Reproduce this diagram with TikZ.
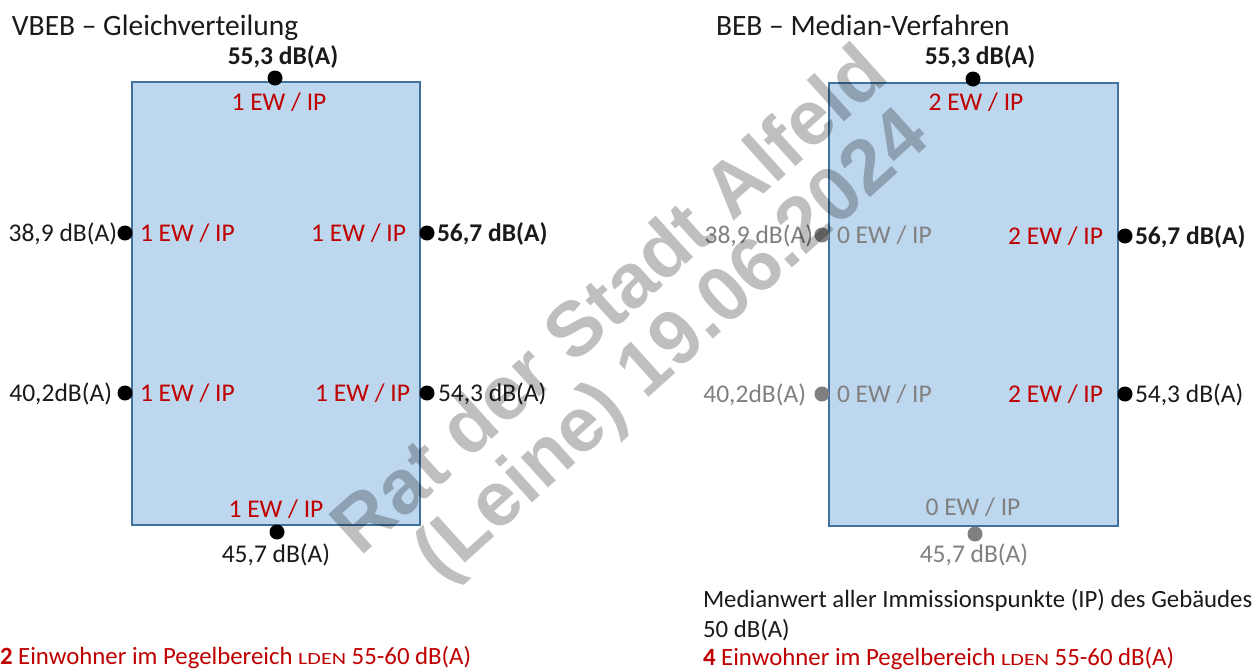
\documentclass[tikz,border=0pt]{standalone}
\usepackage{fontspec}
\setmainfont{Carlito}
\newfontfamily\wmfont{Liberation Sans}
\definecolor{boxfill}{HTML}{BDD7EE}
\definecolor{boxline}{HTML}{41719C}
\definecolor{ewred}{HTML}{C00000}
\definecolor{ipgray}{HTML}{808080}
\definecolor{txt}{HTML}{1A1A1A}
\newcommand{\lden}{\scalebox{1.3}[1]{\fontsize{17}{20}\selectfont LDEN}}
\begin{document}
\begin{tikzpicture}[x=1pt,y=-1pt,
  lbl/.style={inner sep=0pt, outer sep=0pt, text=txt, font=\fontsize{25.5}{30}\selectfont},
  bold/.style={lbl, font=\fontsize{25.5}{30}\selectfont\bfseries},
  ew/.style={lbl, text=ewred},
  grayt/.style={lbl, text=ipgray},
  note/.style={lbl, font=\fontsize{24.8}{30}\selectfont},
  ttl/.style={lbl, font=\fontsize{29.5}{35}\selectfont},
  house/.style={fill=boxfill, draw=boxline, line width=1.6pt},
  ipdot/.style={circle, fill=black, inner sep=0pt, minimum size=15pt},
  ipdotg/.style={ipdot, fill=ipgray},
  wm/.style={inner sep=0pt, text=black, text opacity=0.25, font=\fontsize{77}{82}\selectfont\wmfont\bfseries, rotate=42}
]
\useasboundingbox (0,0) rectangle (1254,670);
\fill[white] (0,0) rectangle (1254,670);

% ---------- left: VBEB ----------
\node[ttl, anchor=base west] (t1) at (12,35) {VBEB – Gleichverteilung};
\path[house] (132,82) rectangle (420,525);
\node[ipdot] (l1) at (275,78) {};
\node[ipdot] (l2) at (125,233) {};
\node[ipdot] (l3) at (125,393) {};
\node[ipdot] (l4) at (427,233) {};
\node[ipdot] (l5) at (427,393) {};
\node[ipdot] (l6) at (277,532) {};

\node[bold, anchor=base] (lv1) at (283,64) {55,3 dB(A)};
\node[ew, anchor=base] (le1) at (279,110) {1 EW / IP};
\node[lbl, anchor=base east] (lv2) at (117,241) {38,9 dB(A)};
\node[ew, anchor=base west] (le2) at (140,241) {1 EW / IP};
\node[ew, anchor=base east] (le4) at (406,241) {1 EW / IP};
\node[bold, anchor=base west] (lv4) at (437,241) {56,7 dB(A)};
\node[lbl, anchor=base east] (lv3) at (112,401) {40,2dB(A)};
\node[ew, anchor=base west] (le3) at (140,401) {1 EW / IP};
\node[ew, anchor=base east] (le5) at (410,401) {1 EW / IP};
\node[lbl, anchor=base west] (lv5) at (438,401) {54,3 dB(A)};
\node[ew, anchor=base] (le6) at (276,517) {1 EW / IP};
\node[lbl, anchor=base] (lv6) at (276,562) {45,7 dB(A)};

\node[note, text=ewred, anchor=base west] (res1) at (0,664) {\textbf{2} Einwohner im Pegelbereich \lden{} 55-60 dB(A)};

% ---------- right: BEB ----------
\node[ttl, anchor=base west] (t2) at (716,35) {BEB – Median-Verfahren};
\path[house] (829,83) rectangle (1118,526);
\node[ipdot] (r1) at (973,79) {};
\node[ipdotg] (r2) at (822,235) {};
\node[ipdotg] (r3) at (822,394) {};
\node[ipdot] (r4) at (1125,236) {};
\node[ipdot] (r5) at (1125,394) {};
\node[ipdotg] (r6) at (975,534) {};

\node[bold, anchor=base] (rv1) at (980,64) {55,3 dB(A)};
\node[ew, anchor=base] (re1) at (976,110) {2 EW / IP};
\node[grayt, anchor=base east] (rv2) at (813,243) {38,9 dB(A)};
\node[grayt, anchor=base west] (re2) at (837,243) {0 EW / IP};
\node[ew, anchor=base east] (re4) at (1103,244) {2 EW / IP};
\node[bold, anchor=base west] (rv4) at (1135,244) {56,7 dB(A)};
\node[grayt, anchor=base east] (rv3) at (806,402) {40,2dB(A)};
\node[grayt, anchor=base west] (re3) at (837,402) {0 EW / IP};
\node[ew, anchor=base east] (re5) at (1103,402) {2 EW / IP};
\node[lbl, anchor=base west] (rv5) at (1135,402) {54,3 dB(A)};
\node[grayt, anchor=base] (re6) at (973,515) {0 EW / IP};
\node[grayt, anchor=base] (rv6) at (974,562) {45,7 dB(A)};

\node[note, anchor=base west] (med1) at (703,607) {Medianwert aller Immissionspunkte (IP) des Gebäudes};
\node[note, anchor=base west] (med2) at (703,637) {50 dB(A)};
\node[note, text=ewred, anchor=base west] (res2) at (703,665) {\textbf{4} Einwohner im Pegelbereich \lden{} 55-60 dB(A)};

% ---------- watermark ----------
\node[wm] (wm1) at (608,298) {Rat der Stadt Alfeld};
\node[wm] (wm2) at (674,348) {(Leine) 19.06.2024};
\end{tikzpicture}
\end{document}
